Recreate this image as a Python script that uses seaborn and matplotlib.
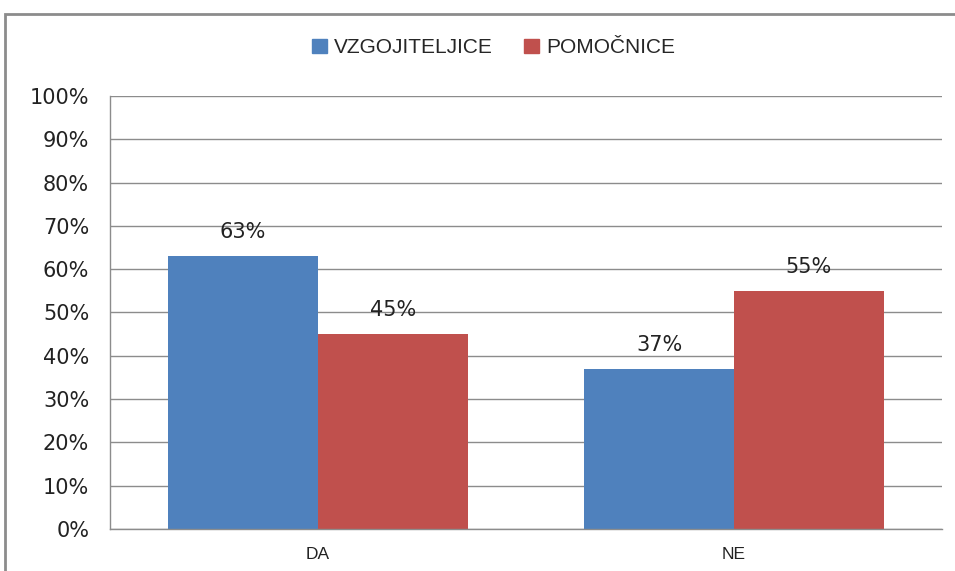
import pandas as pd
import matplotlib.pyplot as plt
import matplotlib.patches as mpatches
from matplotlib.ticker import PercentFormatter, MultipleLocator
import seaborn as sns

# -----------------------------
# Data
# -----------------------------
categories = ["DA", "NE"]
series_names = ["VZGOJITELJICE", "POMOČNICE"]
vzgojiteljice = [0.63, 0.37]
pomocnice = [0.45, 0.55]
colors = ["#4F81BD", "#C0504D"]

df = pd.DataFrame({
    "odgovor": categories * 2,
    "skupina": [series_names[0]] * 2 + [series_names[1]] * 2,
    "delez": vzgojiteljice + pomocnice,
})

# -----------------------------
# Plot
# -----------------------------
sns.set_style("white")
plt.rcParams["font.family"] = ["DejaVu Sans"]

fig = plt.figure(figsize=(9.55, 5.71), dpi=100)
ax = fig.add_axes([0.1152, 0.0736, 0.8712, 0.7583])

sns.barplot(
    data=df, x="odgovor", y="delez", hue="skupina",
    order=categories, hue_order=series_names,
    palette=colors, width=0.72, saturation=1,
    edgecolor="none", errorbar=None, ax=ax,
)

ax.set_ylim(0, 1)
ax.yaxis.set_major_locator(MultipleLocator(0.1))
ax.yaxis.set_major_formatter(PercentFormatter(1.0, decimals=0))
ax.grid(axis="y", color="#8c8c8c", linewidth=1)
ax.set_axisbelow(True)
ax.set_xlabel("")
ax.set_ylabel("")

for side in ["top", "right"]:
    ax.spines[side].set_visible(False)
for side in ["left", "bottom"]:
    ax.spines[side].set_color("#8c8c8c")
    ax.spines[side].set_linewidth(1)

ax.tick_params(axis="y", labelsize=15, colors="#222222", length=0, pad=15)
ax.tick_params(axis="x", length=0, pad=13)
for lab in ax.get_xticklabels():
    lab.set_fontfamily("Liberation Sans")
    lab.set_fontsize(12.5)
    lab.set_color("#222222")

for container in ax.containers:
    ax.bar_label(
        container,
        labels=[f"{v * 100:.0f}%" for v in container.datavalues],
        padding=10, fontsize=15, color="#222222",
    )

ax.get_legend().remove()
handles = [mpatches.Patch(color=c, label=n) for c, n in zip(colors, series_names)]
fig.legend(
    handles=handles, loc="center", bbox_to_anchor=(0.517, 0.916),
    ncol=2, frameon=False, handlelength=0.7, handleheight=0.7,
    handletextpad=0.35, columnspacing=1.5,
    prop={"family": "Liberation Sans", "size": 15},
)

# outer chart frame (runs off the right and bottom edge)
frame = mpatches.Rectangle(
    (5 / 955, -0.1), 1.2, 1.1 - 14 / 571,
    transform=fig.transFigure, fill=False,
    edgecolor="#8c8c8c", linewidth=2, clip_on=False,
)
fig.patches.append(frame)

fig.savefig("out.png", dpi=100)
plt.close(fig)
